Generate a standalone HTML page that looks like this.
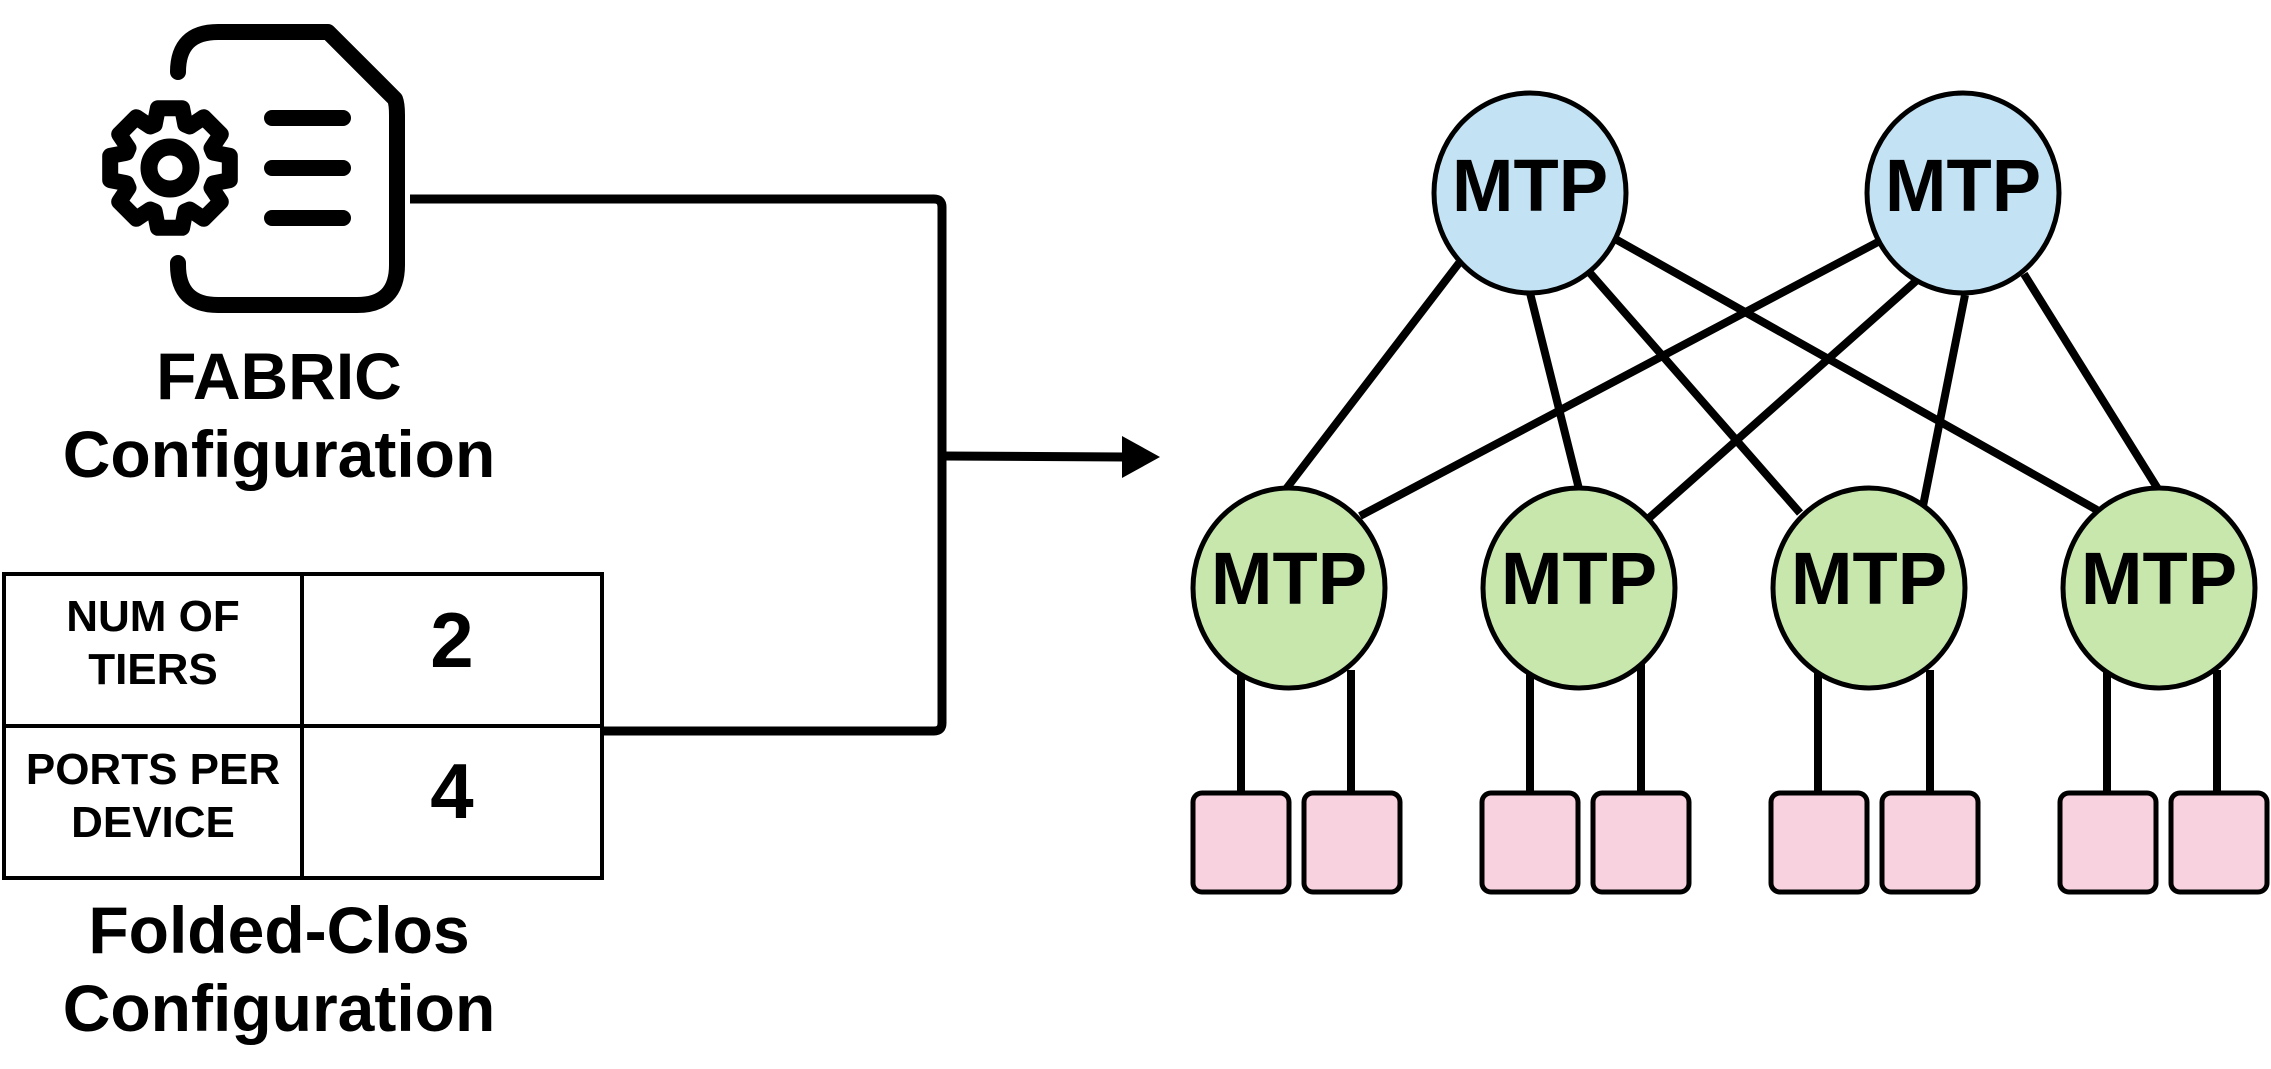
<!DOCTYPE html>
<html><head><meta charset="utf-8"><style>
html,body{margin:0;padding:0;background:#fff;}
svg{display:block}
text{font-family:"Liberation Sans",sans-serif;font-weight:bold;fill:#000}
</style></head><body>
<svg id="s" width="2271" height="1069" viewBox="0 0 2271 1069" xmlns="http://www.w3.org/2000/svg">
<g fill="none" stroke="#000" stroke-width="16" stroke-linecap="round" stroke-linejoin="round">
<path d="M178 72 V72 Q178 32 218 32 H328 L395 99 Q397 104 397 115 V265 Q397 305 357 305 H218 Q178 305 178 265 V263"/>
<line x1="272" y1="118" x2="343" y2="118"/>
<line x1="272" y1="168" x2="343" y2="168"/>
<line x1="272" y1="218" x2="343" y2="218"/>
<circle cx="170" cy="168" r="21" stroke-width="17"/>
<path id="gear" d=""/>
</g>
<g fill="none" stroke="#000" stroke-width="9" stroke-linejoin="round">
<path d="M410 199 H934 Q942 199 942 207 V723 Q942 731 934 731 H602"/>
<line x1="942" y1="456" x2="1125" y2="457"/>
</g>
<polygon points="1122,436 1160,457 1122,478" fill="#000"/>
<g fill="none" stroke="#000" stroke-width="4">
<rect x="4" y="574" width="598" height="304"/>
<line x1="4" y1="726" x2="602" y2="726"/>
<line x1="302" y1="574" x2="302" y2="878"/>
</g>
<g text-anchor="middle">
<text x="153" y="631" font-size="44">NUM OF</text>
<text x="153" y="684" font-size="44">TIERS</text>
<text x="153" y="784" font-size="44">PORTS PER</text>
<text x="153" y="837" font-size="44">DEVICE</text>
<text x="452" y="667" font-size="78">2</text>
<text x="452" y="818" font-size="78">4</text>
<text x="279" y="399" font-size="66">FABRIC</text>
<text x="279" y="477" font-size="66">Configuration</text>
<text x="279" y="953" font-size="66">Folded-Clos</text>
<text x="279" y="1031" font-size="66">Configuration</text>
</g>
<g stroke="#000" stroke-width="8" stroke-linecap="butt">
<line x1="1459" y1="263" x2="1286" y2="489"/>
<line x1="1530" y1="293" x2="1579" y2="489"/>
<line x1="1590" y1="273" x2="1800" y2="513"/>
<line x1="1617" y1="240" x2="2097" y2="510"/>
<line x1="1878" y1="242" x2="1360" y2="516"/>
<line x1="1916" y1="281" x2="1649" y2="518"/>
<line x1="1965" y1="295" x2="1923" y2="506"/>
<line x1="2024" y1="274" x2="2158" y2="489"/>
<line x1="1241" y1="670" x2="1241" y2="792"/><line x1="1351" y1="670" x2="1351" y2="792"/>
<line x1="1530" y1="670" x2="1530" y2="792"/><line x1="1641" y1="660" x2="1641" y2="792"/>
<line x1="1818" y1="670" x2="1818" y2="792"/><line x1="1930" y1="670" x2="1930" y2="792"/>
<line x1="2107" y1="670" x2="2107" y2="792"/><line x1="2217" y1="670" x2="2217" y2="792"/>
</g>
<g stroke="#000" stroke-width="5">
<ellipse cx="1530" cy="193" rx="96" ry="100" fill="#c3e3f5"/>
<ellipse cx="1963" cy="193" rx="96" ry="100" fill="#c3e3f5"/>
<ellipse cx="1289" cy="588" rx="96" ry="100" fill="#c7e7ad"/>
<ellipse cx="1579" cy="588" rx="96" ry="100" fill="#c7e7ad"/>
<ellipse cx="1869" cy="588" rx="96" ry="100" fill="#c7e7ad"/>
<ellipse cx="2159" cy="588" rx="96" ry="100" fill="#c7e7ad"/>
<g fill="#f8d2de">
<rect x="1193" y="793" width="96" height="99" rx="9"/><rect x="1304" y="793" width="96" height="99" rx="9"/>
<rect x="1482" y="793" width="96" height="99" rx="9"/><rect x="1593" y="793" width="96" height="99" rx="9"/>
<rect x="1771" y="793" width="96" height="99" rx="9"/><rect x="1882" y="793" width="96" height="99" rx="9"/>
<rect x="2060" y="793" width="96" height="99" rx="9"/><rect x="2171" y="793" width="96" height="99" rx="9"/>
</g>
</g>
<g text-anchor="middle" font-size="74">
<text x="1530" y="211">MTP</text>
<text x="1963" y="211">MTP</text>
<text x="1289" y="604">MTP</text>
<text x="1579" y="604">MTP</text>
<text x="1869" y="604">MTP</text>
<text x="2159" y="604">MTP</text>
</g>
</svg>
<script>
(function(){
var cx=170,cy=168,rt=61,rb=46,d="";
for(var i=0;i<8;i++){
 var a=i*Math.PI/4;
 var pts=[[rb,a-0.34],[rt,a-0.2],[rt,a+0.2],[rb,a+0.34]];
 pts.forEach(function(p,j){
  var x=cx+p[0]*Math.cos(p[1]),y=cy+p[0]*Math.sin(p[1]);
  d+=(i==0&&j==0?"M":"L")+x.toFixed(1)+" "+y.toFixed(1)+" ";
 });
}
document.getElementById("gear").setAttribute("d",d+"Z");
})();
</script>
</body></html>
